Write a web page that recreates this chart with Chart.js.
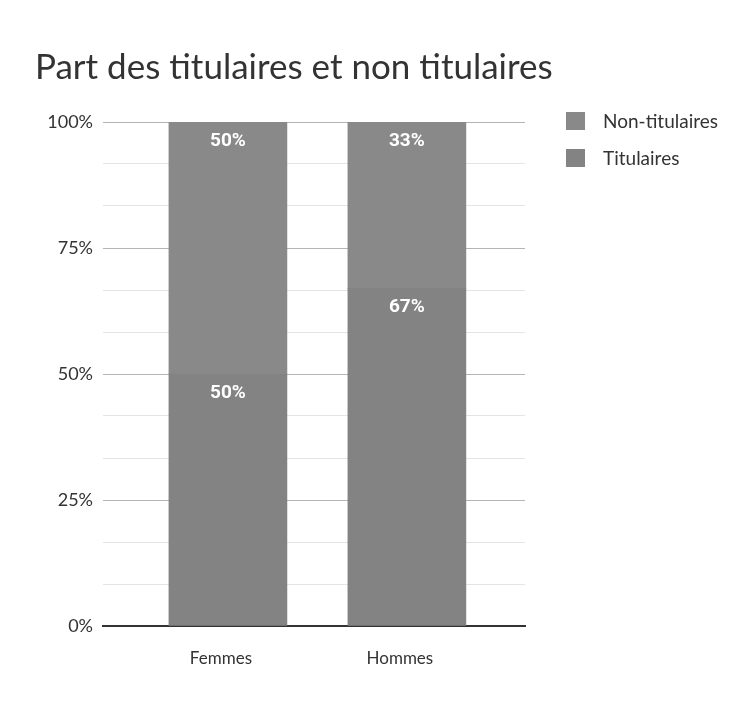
<!DOCTYPE html>
<html>
<head>
<meta charset="utf-8">
<script src="https://cdn.jsdelivr.net/npm/chart.js@4.4.1/dist/chart.umd.min.js"></script>
<style>
    body { margin: 0; background: #fff; }
    #wrap { position: relative; width: 746px; height: 714px; }
    #legend { position: absolute; left: 566px; top: 102px; font-family: Lato, sans-serif; font-size: 19px; color: #333; }
    #legend div { height: 37px; display: flex; align-items: center; }
    #legend span.box { display: inline-block; width: 19px; height: 18px; margin-right: 18px; }
</style>
</head>
<body>
<div id="wrap">
    <canvas id="chart" width="746" height="714"></canvas>
    <div id="legend"></div>
</div>
<script>
var categories = ['Femmes', 'Hommes'];
var titulaires = [50, 67];
var nonTitulaires = [50, 33];
var seriesNames = ['Titulaires', 'Non-titulaires'];
var seriesColors = ['#838383', '#898989'];

function points(values){
    return values.map(function(v, i){ return {x: i, y: v}; });
}

function isMajor(v){
    var r = Math.round(v);
    return Math.abs(v - r) < 0.01 && r % 25 === 0;
}

// white percentage labels, just below the top of each segment
var segmentLabels = {
    id: 'segmentLabels',
    afterDatasetsDraw: function(chart){
        var ctx = chart.ctx;
        ctx.save();
        ctx.fillStyle = '#fff';
        ctx.font = 'bold 19px Roboto, sans-serif';
        ctx.textAlign = 'center';
        ctx.textBaseline = 'middle';
        chart.data.datasets.forEach(function(ds, d){
            chart.getDatasetMeta(d).data.forEach(function(bar, i){
                ctx.fillText(ds.data[i].y + '%', bar.x, bar.y + 19);
            });
        });
        ctx.restore();
    }
};

var ctx = document.getElementById('chart').getContext('2d');
var chart = new Chart(ctx, {
    type: 'bar',
    data: {
        datasets: [{
            label: seriesNames[0],
            data: points(titulaires),
            backgroundColor: seriesColors[0],
            barThickness: 118,
        },{
            label: seriesNames[1],
            data: points(nonTitulaires),
            backgroundColor: seriesColors[1],
            barThickness: 118,
        }]
    },
    options: {
        responsive: false,
        animation: false,
        layout: { padding: { left: 35, right: 0, top: 0, bottom: 0 } },
        plugins: {
            legend: { display: false },
            tooltip: { enabled: false },
            title: {
                display: true,
                text: 'Part des titulaires et non titulaires',
                align: 'start',
                color: '#333',
                font: { family: 'Lato, sans-serif', size: 35, weight: 'normal' },
                padding: { top: 47, bottom: 33 }
            }
        },
        scales: {
            x: {
                type: 'linear',
                stacked: true,
                offset: false,
                min: -0.698,
                max: 1.66,
                grid: { display: false },
                border: { color: '#333', width: 2 },
                afterBuildTicks: function(scale){
                    scale.ticks = categories.map(function(c, i){ return {value: i}; });
                },
                afterFit: function(scale){ scale.height = 88; },
                ticks: {
                    padding: 14,
                    labelOffset: -7,
                    color: '#333',
                    font: { family: 'Lato, sans-serif', size: 17 },
                    callback: function(v){ return categories[v]; }
                }
            },
            y: {
                stacked: true,
                min: 0,
                max: 100,
                afterFit: function(scale){ scale.width = 68; },
                border: { display: false },
                grid: {
                    drawTicks: false,
                    color: function(c){ return isMajor(c.tick.value) ? '#b5b5b5' : '#e4e4e4'; }
                },
                ticks: {
                    stepSize: 100 / 12,
                    padding: 10,
                    autoSkip: false,
                    color: '#333',
                    font: { family: 'Lato, sans-serif', size: 18 },
                    callback: function(v){ return isMajor(v) ? Math.round(v) + '%' : ''; }
                }
            },
            // empty right axis, keeps room for the legend
            yRight: {
                position: 'right',
                display: true,
                min: 0,
                max: 100,
                grid: { display: false },
                border: { display: false },
                ticks: { display: false },
                afterFit: function(scale){ scale.width = 221; }
            }
        }
    },
    plugins: [segmentLabels]
});

// legend, top series first
var legend = document.getElementById('legend');
[1, 0].forEach(function(d){
    var row = document.createElement('div');
    row.innerHTML = '<span class="box" style="background:' + seriesColors[d] + '"></span><span>' + seriesNames[d] + '</span>';
    legend.appendChild(row);
});
</script>
</body>
</html>
